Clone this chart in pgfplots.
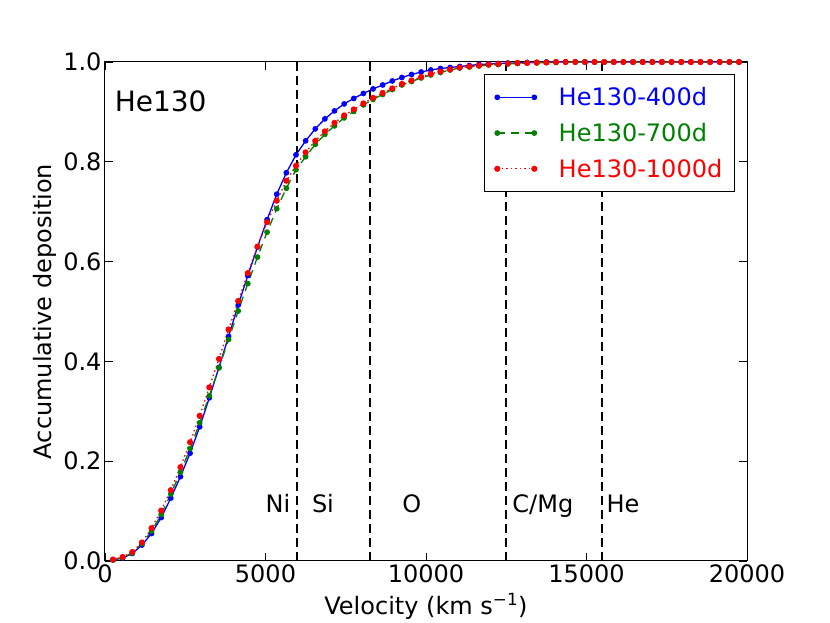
\documentclass[border=0pt]{standalone}
\usepackage{fontspec}
\setmainfont{DejaVu Sans}
\usepackage{pgfplots}
\pgfplotsset{compat=1.18}
\definecolor{mplblue}{rgb}{0,0,1}
\definecolor{mplgreen}{rgb}{0,0.5,0}
\definecolor{mplred}{rgb}{1,0,0}
\begin{document}
\begin{tikzpicture}
\useasboundingbox (-105pt,-62pt) rectangle (725pt,561pt);
\begin{axis}[
  scale only axis, width=642pt, height=499pt,
  xmin=0, xmax=20000, ymin=0, ymax=1,
  xtick={0,5000,10000,15000,20000},
  ytick={0,0.2,0.4,0.6,0.8,1.0},
  scaled x ticks=false,
  minor tick num=0,
  tick align=inside, tick pos=both,
  major tick length=8pt,
  axis line style={line width=1pt},
  every tick/.style={black, line width=0.8pt},
  /pgf/number format/assume math mode=true,
  /pgf/number format/1000 sep={},
  yticklabel style={/pgf/number format/fixed, /pgf/number format/fixed zerofill, /pgf/number format/precision=1},
  tick label style={font=\fontsize{24}{28}\selectfont},
  label style={font=\fontsize{24}{28}\selectfont},
  xlabel={Velocity (km s\textsuperscript{−1})},
  xlabel style={yshift=-4pt},
  ylabel={Accumulative deposition},
  legend style={at={(rel axis cs:0.981,0.976)}, anchor=north east, draw=black, line width=1pt,
    font=\fontsize{24}{28}\selectfont, row sep=12pt, inner xsep=10pt, inner ysep=11pt,
    /tikz/every odd column/.append style={column sep=20pt}},
  legend cell align=left,
  legend image code/.code={\draw[#1, mark=none] (0pt,0pt) -- (37pt,0pt);
     \draw[#1, draw=none] plot[only marks] coordinates {(0pt,0pt) (37pt,0pt)};},
  clip=false,
]
\addplot[mplblue, line width=1.3pt, mark=*, mark size=2.2pt, mark options={solid}] coordinates {
(250,0.002)(550,0.006)(850,0.015)(1150,0.032)(1450,0.055)(1750,0.087)(2050,0.126)(2350,0.169)
(2650,0.216)(2950,0.269)(3250,0.327)(3550,0.388)(3850,0.450)(4150,0.513)(4450,0.572)(4750,0.629)
(5050,0.684)(5350,0.735)(5650,0.778)(5950,0.814)(6250,0.842)(6550,0.866)(6850,0.886)(7150,0.902)
(7450,0.916)(7750,0.927)(8050,0.937)(8350,0.946)(8650,0.954)(8950,0.962)(9250,0.969)(9550,0.975)
(9850,0.980)(10150,0.984)(10450,0.987)(10750,0.989)(11050,0.991)(11350,0.993)(11650,0.995)(11950,0.996)
(12250,0.997)(12550,0.998)(12850,0.998)(13150,0.999)(13450,0.999)(13750,1.0)(14050,1.0)(14350,1.0)
(14650,1.0)(14950,1.0)(15250,1.0)(15550,1.0)(15850,1.0)(16150,1.0)(16450,1.0)(16750,1.0)
(17050,1.0)(17350,1.0)(17650,1.0)(17950,1.0)(18250,1.0)(18550,1.0)(18850,1.0)(19150,1.0)
(19450,1.0)(19750,1.0)};
\addlegendentry{\textcolor{mplblue}{He130-400d}}
\addplot[mplgreen, line width=1.3pt, dash pattern=on 8pt off 6pt, mark=*, mark size=2.2pt, mark options={solid}] coordinates {
(250,0.002)(550,0.007)(850,0.016)(1150,0.035)(1450,0.060)(1750,0.093)(2050,0.134)(2350,0.178)
(2650,0.225)(2950,0.277)(3250,0.331)(3550,0.387)(3850,0.444)(4150,0.501)(4450,0.556)(4750,0.609)
(5050,0.659)(5350,0.706)(5650,0.747)(5950,0.784)(6250,0.810)(6550,0.835)(6850,0.855)(7150,0.872)
(7450,0.888)(7750,0.901)(8050,0.914)(8350,0.925)(8650,0.935)(8950,0.945)(9250,0.954)(9550,0.961)
(9850,0.968)(10150,0.974)(10450,0.979)(10750,0.984)(11050,0.988)(11350,0.990)(11650,0.992)(11950,0.994)
(12250,0.995)(12550,0.996)(12850,0.997)(13150,0.998)(13450,0.998)(13750,0.999)(14050,0.999)(14350,1.0)
(14650,1.0)(14950,1.0)(15250,1.0)(15550,1.0)(15850,1.0)(16150,1.0)(16450,1.0)(16750,1.0)
(17050,1.0)(17350,1.0)(17650,1.0)(17950,1.0)(18250,1.0)(18550,1.0)(18850,1.0)(19150,1.0)
(19450,1.0)(19750,1.0)};
\addlegendentry{\textcolor{mplgreen}{He130-700d}}
\addplot[mplred, line width=1.3pt, dash pattern=on 1.5pt off 3pt, mark=*, mark size=2.4pt, mark options={solid}] coordinates {
(250,0.003)(550,0.008)(850,0.018)(1150,0.037)(1450,0.066)(1750,0.101)(2050,0.142)(2350,0.188)
(2650,0.238)(2950,0.291)(3250,0.348)(3550,0.405)(3850,0.464)(4150,0.521)(4450,0.577)(4750,0.630)
(5050,0.679)(5350,0.722)(5650,0.762)(5950,0.792)(6250,0.819)(6550,0.842)(6850,0.861)(7150,0.878)
(7450,0.893)(7750,0.905)(8050,0.917)(8350,0.928)(8650,0.938)(8950,0.947)(9250,0.956)(9550,0.963)
(9850,0.970)(10150,0.976)(10450,0.981)(10750,0.985)(11050,0.989)(11350,0.991)(11650,0.993)(11950,0.995)
(12250,0.996)(12550,0.997)(12850,0.998)(13150,0.998)(13450,0.999)(13750,0.999)(14050,1.0)(14350,1.0)
(14650,1.0)(14950,1.0)(15250,1.0)(15550,1.0)(15850,1.0)(16150,1.0)(16450,1.0)(16750,1.0)
(17050,1.0)(17350,1.0)(17650,1.0)(17950,1.0)(18250,1.0)(18550,1.0)(18850,1.0)(19150,1.0)
(19450,1.0)(19750,1.0)};
\addlegendentry{\textcolor{mplred}{He130-1000d}}
\addplot[black, line width=1.6pt, dash pattern=on 9pt off 5pt, forget plot] coordinates {(5980,0) (5980,1)};
\addplot[black, line width=1.6pt, dash pattern=on 9pt off 5pt, forget plot] coordinates {(8260,0) (8260,1)};
\addplot[black, line width=1.6pt, dash pattern=on 9pt off 5pt, forget plot] coordinates {(12490,0) (12490,1)};
\addplot[black, line width=1.6pt, dash pattern=on 9pt off 5pt, forget plot] coordinates {(15480,0) (15480,1)};
\node[anchor=base, font=\fontsize{24}{28}\selectfont] at (axis cs:5390,0.098) {Ni};
\node[anchor=base, font=\fontsize{24}{28}\selectfont] at (axis cs:6790,0.098) {Si};
\node[anchor=base, font=\fontsize{24}{28}\selectfont] at (axis cs:9560,0.098) {O};
\node[anchor=base, font=\fontsize{24}{28}\selectfont] at (axis cs:13640,0.098) {C/Mg};
\node[anchor=base, font=\fontsize{24}{28}\selectfont] at (axis cs:16140,0.098) {He};
\node[anchor=base west, inner sep=0pt, font=\fontsize{28}{32}\selectfont] at (axis cs:300,0.900) {He130};
\end{axis}
\end{tikzpicture}
\end{document}
